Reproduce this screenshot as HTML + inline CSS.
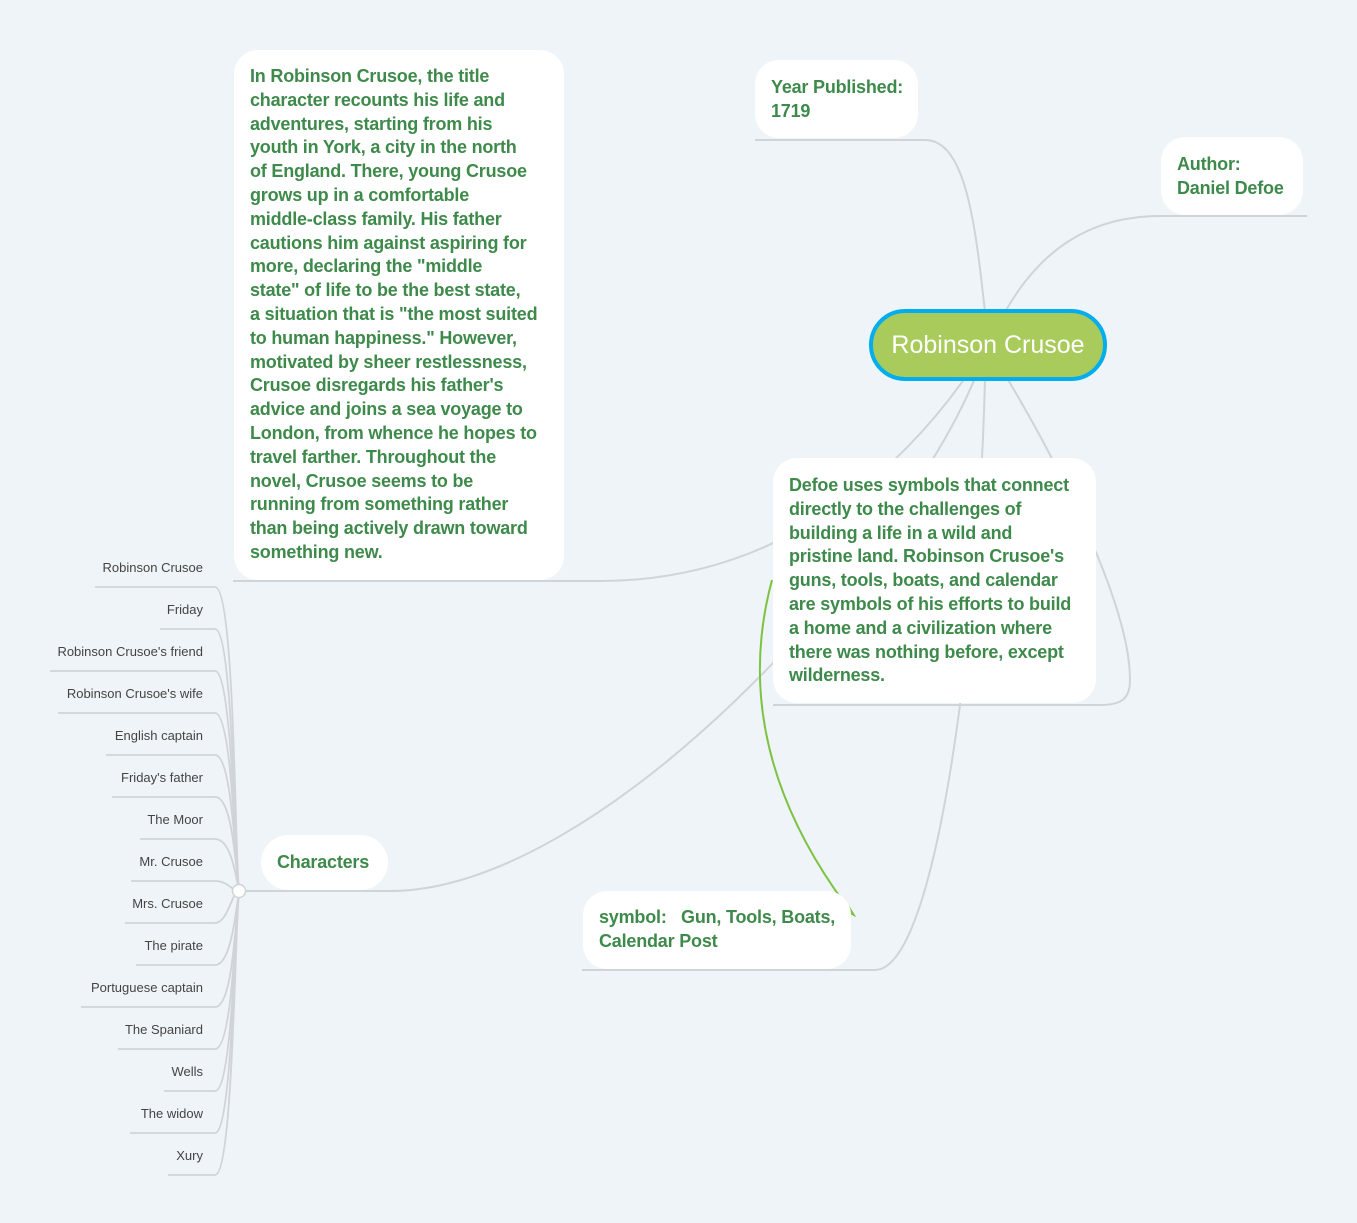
<!DOCTYPE html>
<html><head><meta charset="utf-8"><style>
body{margin:0;width:1357px;height:1223px;background:#eef4f7;position:relative;overflow:hidden;font-family:"Liberation Sans",sans-serif}
.n{position:absolute;background:#fff;border-radius:24px;color:#3e8a4b;font-weight:bold;font-size:18px;line-height:23.8px;box-sizing:border-box;padding:14px 16px;white-space:nowrap;letter-spacing:-0.2px}
.c{position:absolute;right:1154px;font-size:13px;color:#444;white-space:nowrap}
svg{position:absolute;left:0;top:0}
</style></head><body>
<svg width="1357" height="1223" fill="none" stroke="#d0d4d8" stroke-width="2">
<path d="M985,312 C975,220 965,140 925,140 L755,140"/>
<path d="M1005,312 C1040,250 1090,216 1160,216 L1307,216"/>
<path d="M965,378 C900,470 780,581 600,581 L233,581"/>
<path d="M975,378 C900,560 600,891 390,891 L245,891"/>
<path d="M985,378 C980,600 940,970 875,970 L582,970"/>
<path d="M1007,378 C1050,450 1130,600 1130,680 C1130,700 1120,705 1100,705 L773,705"/>
<g stroke-width="1.8">
<path d="M95,587 L215,587 C235,587 235,860 239,891"/>
<path d="M160,629 L215,629 C233,629 235,860 239,891"/>
<path d="M50,671 L215,671 C232,671 235,860 239,891"/>
<path d="M58,713 L215,713 C232,713 235,860 239,891"/>
<path d="M106,755 L215,755 C232,755 235,860 239,891"/>
<path d="M112,797 L215,797 C232,797 235,860 239,891"/>
<path d="M140,839 L215,839 C230,839 235,870 239,891"/>
<path d="M131,881 L215,881 C228,881 232,891 239,891"/>
<path d="M125,923 L215,923 C228,923 232,891 239,891"/>
<path d="M136,965 L215,965 C230,965 235,920 239,891"/>
<path d="M81,1007 L215,1007 C232,1007 235,930 239,891"/>
<path d="M118,1049 L215,1049 C232,1049 235,930 239,891"/>
<path d="M164,1091 L215,1091 C232,1091 235,930 239,891"/>
<path d="M130,1133 L215,1133 C232,1133 235,930 239,891"/>
<path d="M168,1175 L215,1175 C233,1175 235,930 239,891"/>
</g>
<circle cx="239" cy="891" r="6.5" fill="#fff" stroke-width="1.5"/>
<path d="M772,580 C745,680 760,790 848,908" stroke="#7dc242" stroke-width="2"/>
<path d="M845,900 L855,916 L843,910 Z" fill="#7dc242" stroke="#7dc242" stroke-width="1"/>
</svg>
<div class="n" style="left:234px;top:50px;width:330px;height:530px;padding-top:15px">In Robinson Crusoe, the title<br>character recounts his life and<br>adventures, starting from his<br>youth in York, a city in the north<br>of England. There, young Crusoe<br>grows up in a comfortable<br>middle-class family. His father<br>cautions him against aspiring for<br>more, declaring the "middle<br>state" of life to be the best state,<br>a situation that is "the most suited<br>to human happiness." However,<br>motivated by sheer restlessness,<br>Crusoe disregards his father's<br>advice and joins a sea voyage to<br>London, from whence he hopes to<br>travel farther. Throughout the<br>novel, Crusoe seems to be<br>running from something rather<br>than being actively drawn toward<br>something new.</div>
<div class="n" style="left:755px;top:60px;width:163px;height:78px;padding-top:16px">Year Published:<br>1719</div>
<div class="n" style="left:1161px;top:137px;width:142px;height:78px;padding-top:16px">Author:<br>Daniel Defoe</div>
<div style="position:absolute;left:869px;top:309px;width:238px;height:72px;box-sizing:border-box;border:4px solid #00aef0;border-radius:36px;background:#a8cb5c;color:#fff;font-size:25px;text-align:center;line-height:64px">Robinson Crusoe</div>
<div class="n" style="left:773px;top:458px;width:323px;height:245px;padding-top:16px">Defoe uses symbols that connect<br>directly to the challenges of<br>building a life in a wild and<br>pristine land. Robinson Crusoe's<br>guns, tools, boats, and calendar<br>are symbols of his efforts to build<br>a home and a civilization where<br>there was nothing before, except<br>wilderness.</div>
<div class="n" style="left:261px;top:835px;width:127px;height:55px;border-radius:28px;line-height:27px">Characters</div>
<div class="n" style="left:583px;top:891px;width:268px;height:78px;padding-top:15px">symbol:&nbsp;&nbsp; Gun, Tools, Boats,<br>Calendar Post</div>
<div class="c" style="top:560px">Robinson Crusoe</div>
<div class="c" style="top:602px">Friday</div>
<div class="c" style="top:644px">Robinson Crusoe's friend</div>
<div class="c" style="top:686px">Robinson Crusoe's wife</div>
<div class="c" style="top:728px">English captain</div>
<div class="c" style="top:770px">Friday's father</div>
<div class="c" style="top:812px">The Moor</div>
<div class="c" style="top:854px">Mr. Crusoe</div>
<div class="c" style="top:896px">Mrs. Crusoe</div>
<div class="c" style="top:938px">The pirate</div>
<div class="c" style="top:980px">Portuguese captain</div>
<div class="c" style="top:1022px">The Spaniard</div>
<div class="c" style="top:1064px">Wells</div>
<div class="c" style="top:1106px">The widow</div>
<div class="c" style="top:1148px">Xury</div>
</body></html>
